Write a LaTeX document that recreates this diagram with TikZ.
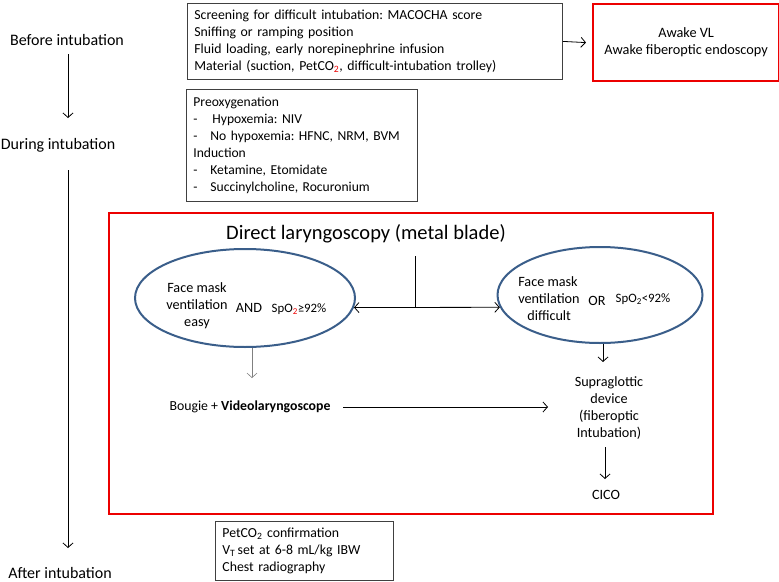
\documentclass[tikz,border=0pt]{standalone}
\usepackage{fontspec}
\setmainfont{Carlito}
\usetikzlibrary{arrows.meta,shapes.geometric,calc}
\definecolor{ellblue}{RGB}{58,94,138}
\definecolor{boxred}{RGB}{236,0,0}
\definecolor{boxgray}{RGB}{64,64,64}
\newcommand{\redsub}[1]{\textcolor{boxred}{\textsubscript{#1}}}
\newcommand{\dashitem}[1]{\makebox[17pt][l]{-}#1}
\frenchspacing
\begin{document}
\begin{tikzpicture}[x=1pt,y=-1pt,
  every node/.style={font=\fontsize{14}{17}\selectfont, inner sep=0pt},
  arr/.style={-{Straight Barb[length=4.5pt,width=10pt]}, line width=0.8pt},
  darr/.style={{Straight Barb[length=4.5pt,width=10pt]}-{Straight Barb[length=4.5pt,width=10pt]}, line width=0.8pt},
  garr/.style={-{Straight Barb[length=4.5pt,width=10pt]}, line width=0.6pt, draw=gray},
  gbox/.style={draw=boxgray, line width=0.8pt, anchor=north west, align=left, inner xsep=7pt},
  rbox/.style={draw=boxred, line width=2.2pt},
  stage/.style={font=\fontsize{16}{17}\selectfont},
  ell/.style={ellipse, draw=ellblue, line width=2pt},
  etext/.style={font=\fontsize{14.2}{17}\selectfont, align=center},
  spo/.style={font=\fontsize{12.8}{14}\selectfont}
]
\useasboundingbox (0,0) rectangle (779,581);

% stage labels
\node[stage] (before) at (67,40) {Before intubation};
\node[stage] (during) at (58,145) {During intubation};
\node[stage, anchor=base] (after) at (60,578) {After intubation};
\coordinate (a1s) at (68,54);
\coordinate (a1e) at (68,118);
\coordinate (a2s) at (68,170);
\coordinate (a2e) at (68,548);
\draw[arr] (a1s) -- (a1e);
\draw[arr] (a2s) -- (a2e);

% top boxes
\node[gbox, minimum height=76, text width=361, font=\fontsize{13.8}{17}\selectfont] (screen) at (187,3) {Screening for difficult intubation: MACOCHA score\\
Sniffing or ramping position\\
Fluid loading, early norepinephrine infusion\\
Material (suction, PetCO\redsub{2}, difficult-intubation trolley)};
\node[rbox, anchor=north west, minimum width=186, minimum height=77, align=center, font=\fontsize{14.3}{17}\selectfont] (awake) at (592,3) {Awake VL\\Awake fiberoptic endoscopy};
\draw[arr] (screen.east) -- ($(awake.west)+(-6,0)$);

\node[gbox, minimum height=112, text width=217, font=\fontsize{13.6}{17}\selectfont] (preox) at (186,89) {Preoxygenation\\
\dashitem{\hspace{2pt}Hypoxemia: NIV}\\
\dashitem{No hypoxemia: HFNC, NRM, BVM}\\
Induction\\
\dashitem{Ketamine, Etomidate}\\
\dashitem{Succinylcholine, Rocuronium}};

% main red frame
\node[rbox, anchor=north west, minimum width=604, minimum height=301] (frame) at (108,212) {};
\node[font=\fontsize{20.5}{22}\selectfont] (title) at (366,234) {Direct laryngoscopy (metal blade)};

% ellipses
\node[ell, minimum width=220, minimum height=98] (e1) at (245,298) {};
\node[etext] (e1t) at (197,306) {Face mask\\ventilation\\easy};
\node[font=\fontsize{14.2}{17}\selectfont] (and) at (249,308) {AND};
\node[spo] (spo1) at (299,309) {SpO\redsub{2}≥92\%};

\node[ell, minimum width=205, minimum height=96] (e2) at (600,295) {};
\node[etext, align=left] (e2t) at (549,299) {Face mask\\ventilation\\\hspace*{9pt}difficult};
\node[font=\fontsize{14.2}{17}\selectfont] (or) at (597,301) {OR};
\node[spo] (spo2) at (643,299) {SpO\textsubscript{2}<92\%};

% junction
\coordinate (jt) at (415,256);
\coordinate (j) at (415,308);
\draw[line width=0.8pt] (jt) -- (j);
\draw[darr] (e1.-5) -- (e2.187);

% lower part
\coordinate (g2) at (252,378);
\draw[garr] (e1.south -| g2) -- (g2);

\node[font=\fontsize{13.8}{14}\selectfont] (bougie) at (250,407) {Bougie + \textbf{Videolaryngoscope}};
\node[etext] (sup) at (609,408) {Supraglottic\\device\\(fiberoptic\\Intubation)};
\coordinate (s1) at (603,362);
\draw[arr] (e2.south -| s1) -- (s1);
\coordinate (bstart) at (343,407);
\coordinate (bend) at (548,407);
\draw[arr] (bstart) -- (bend);

\node[etext] (cico) at (606,495) {CICO};
\coordinate (c1) at (605,447);
\coordinate (c2) at (605,479);
\draw[arr] (c1) -- (c2);

% after box
\node[gbox, minimum height=59, text width=164, inner xsep=7pt, font=\fontsize{13.8}{17}\selectfont] (final) at (215,521) {PetCO\textsubscript{2} confirmation\\
V\textsubscript{T}\,set at 6-8 mL/kg IBW\\
Chest radiography};
\end{tikzpicture}
\end{document}
